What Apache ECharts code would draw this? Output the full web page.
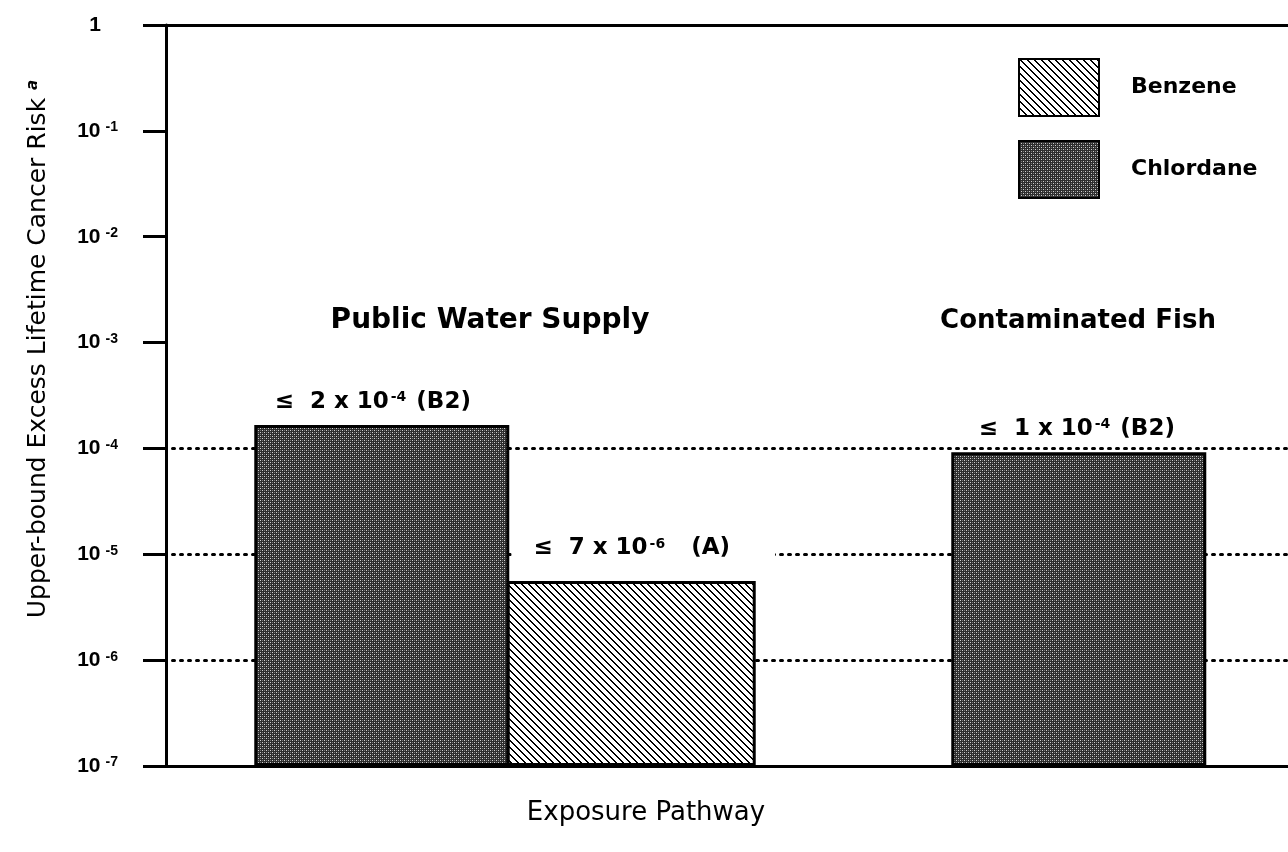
<!DOCTYPE html>
<html><head><meta charset="utf-8">
<script src="https://cdn.jsdelivr.net/npm/echarts@6/dist/echarts.min.js"></script>
<style>html,body{margin:0;padding:0;background:#fff}#c{width:1288px;height:852px}</style>
</head><body><div id="c"></div>
<script>
// ---- data ----
const pathways = ['Public Water Supply', 'Contaminated Fish'];
const chlordaneRisk = [1.66e-4, 9.2e-5];
const benzeneRisk = [5.5e-6, null];
const chlordaneBoundMantissa = [2, 1];
const chlordaneBoundExponent = [-4, -4];
const chlordaneClass = ['B2', 'B2'];
const benzeneBoundMantissa = [7, null];
const benzeneBoundExponent = [-6, null];
const benzeneClass = ['A', null];
const yTickExponents = [-7, -6, -5, -4, -3, -2, -1, 0];
const gridlineExponents = [-6, -5, -4];
const legendNames = ['Benzene', 'Chlordane'];
const yTitle = 'Upper-bound Excess Lifetime Cancer Risk';
const yTitleNote = 'a';
const xTitle = 'Exposure Pathway';

const axisMin = Math.pow(10, yTickExponents[0]);
const axisMax = Math.pow(10, yTickExponents[yTickExponents.length - 1]);

// ---- patterns ----
function makeStipple() {
  const c = document.createElement('canvas'); c.width = 4; c.height = 4;
  const g = c.getContext('2d');
  g.fillStyle = '#2e2e2e'; g.fillRect(0, 0, 4, 4);
  g.fillStyle = '#d0d0d0'; g.fillRect(0, 0, 1, 1); g.fillRect(2, 2, 1, 1);
  g.fillStyle = '#7a7a7a'; g.fillRect(2, 0, 1, 1); g.fillRect(0, 2, 1, 1);
  return c;
}
function makeHatch() {
  const n = 7;
  const c = document.createElement('canvas'); c.width = n; c.height = n;
  const g = c.getContext('2d');
  g.fillStyle = '#fff'; g.fillRect(0, 0, n, n);
  g.fillStyle = '#000';
  for (let i = 0; i < n; i++) { g.fillRect(i, i, 1, 1); g.fillRect((i + 1) % n, i, 1, 1); }
  return c;
}
const stipple = { image: makeStipple(), repeat: 'repeat' };
const hatch = { image: makeHatch(), repeat: 'repeat' };

const FONT = 'DejaVu Sans';
const labelRich = {
  t: { fontFamily: FONT, fontWeight: 'bold', fontSize: 23, color: '#000' },
  s: { fontFamily: FONT, fontWeight: 'bold', fontSize: 14, color: '#000', verticalAlign: 'top', lineHeight: 14, padding: [0, 2, 0, 2] }
};
function boundText(m, e, cls, sep) {
  return '{t|\u2264  ' + m + ' x 10}{s|' + e + '}{t|' + sep + '(' + cls + ')}';
}
const chlLabelStyle = [
  { offset: [-9, 0], distance: 12 },
  { offset: [-2, 0], distance: 12 }
];
const benLabelStyle = [
  { offset: [12, 0], distance: 17, backgroundColor: '#fff', padding: [4, 45, 4, 22] }
];

const chlData = chlordaneRisk.map((v, i) => ({
  value: v,
  label: Object.assign({ show: true, position: 'top', formatter: boundText(chlordaneBoundMantissa[i], chlordaneBoundExponent[i], chlordaneClass[i], ' '), rich: labelRich }, chlLabelStyle[i])
}));
const benData = benzeneRisk.map((v, i) => (v == null ? null : {
  value: v,
  label: Object.assign({ show: true, position: 'top', formatter: boundText(benzeneBoundMantissa[i], benzeneBoundExponent[i], benzeneClass[i], '   '), rich: labelRich }, benLabelStyle[i])
}));
// invisible stack bases so that bars grow up from the axis minimum on the log axis
const chlBase = chlordaneRisk.map(v => (v == null ? null : axisMin));
const benBase = benzeneRisk.map(v => (v == null ? null : axisMin));

const splitColors = yTickExponents.map(e => gridlineExponents.includes(e) ? '#000' : 'rgba(0,0,0,0)');
const axisLineStyle = { color: '#000', width: 3 };
const baseStyle = { color: 'rgba(0,0,0,0)', borderWidth: 0 };

const chart = echarts.init(document.getElementById('c'), null, { renderer: 'canvas' });
chart.setOption({
  animation: false,
  backgroundColor: '#fff',
  grid: { left: 156.5, width: 1394, top: 25, bottom: 86, containLabel: false, outerBoundsMode: 'none' },
  xAxis: [
    { type: 'category', data: pathways, position: 'bottom',
      axisLine: { show: true, onZero: false, lineStyle: axisLineStyle },
      axisTick: { show: false }, axisLabel: { show: false }, splitLine: { show: false } },
    { type: 'category', data: pathways, position: 'top',
      axisLine: { show: true, onZero: false, lineStyle: axisLineStyle },
      axisTick: { show: false }, axisLabel: { show: false }, splitLine: { show: false } }
  ],
  yAxis: {
    type: 'log', logBase: 10, min: axisMin, max: axisMax, splitNumber: 7, offset: -9.5,
    axisLine: { show: true, onZero: false, lineStyle: axisLineStyle },
    axisTick: { show: true, length: 23, lineStyle: { color: '#000', width: 3 } },
    axisLabel: {
      margin: 48, color: '#000',
      formatter: function (v) {
        const e = Math.round(Math.log10(v));
        if (e === 0) return '{b|1}{g|}';
        return '{b|10}{s|' + e + '}';
      },
      rich: {
        b: { fontFamily: 'Liberation Sans', fontWeight: 'bold', fontSize: 21, color: '#000' },
        s: { fontFamily: 'Liberation Sans', fontWeight: 'bold', fontSize: 14, color: '#000', verticalAlign: 'top', lineHeight: 14, padding: [0, 0, 0, 5] },
        g: { width: 17 }
      }
    },
    splitLine: { show: true, lineStyle: { color: splitColors, width: 3, type: [2, 6], cap: 'round' } }
  },
  legend: {
    data: legendNames, orient: 'vertical', left: 1018, top: 58, padding: 0,
    itemWidth: 80, itemHeight: 57, itemGap: 23, icon: 'rect',
    textStyle: { fontFamily: FONT, fontWeight: 'bold', fontSize: 22, color: '#000', padding: [0, 0, 0, 27] }
  },
  series: [
    { name: 'chlBase', type: 'bar', stack: 'chl', xAxisIndex: 0, data: chlBase, barWidth: 255, barGap: '-1%',
      itemStyle: baseStyle, silent: true, label: { show: false }, z: 1 },
    { name: 'Chlordane', type: 'bar', stack: 'chl', xAxisIndex: 0, data: chlData, barWidth: 255, barGap: '-1%',
      itemStyle: { color: stipple, borderColor: '#000', borderWidth: 3 } },
    { name: 'benBase', type: 'bar', stack: 'ben', xAxisIndex: 0, data: benBase, barWidth: 249, barGap: '-1%',
      itemStyle: baseStyle, silent: true, label: { show: false }, z: 1 },
    { name: 'Benzene', type: 'bar', stack: 'ben', xAxisIndex: 0, data: benData, barWidth: 249, barGap: '-1%',
      itemStyle: { color: hatch, borderColor: '#000', borderWidth: 3 } }
  ],
  graphic: [
    { type: 'text', x: 38, y: 349, rotation: Math.PI / 2, z: 10,
      style: { text: '{m|' + yTitle + '}{s|' + yTitleNote + '}', align: 'center', verticalAlign: 'middle',
        rich: { m: { fontFamily: FONT, fontSize: 25, color: '#000' },
                s: { fontFamily: FONT, fontSize: 15, fontWeight: 'bold', fontStyle: 'italic', color: '#000', verticalAlign: 'top', lineHeight: 12, padding: [0, 0, 0, 8] } } } },
    { type: 'text', x: 646, y: 813, z: 10,
      style: { text: xTitle, fontFamily: FONT, fontSize: 26, fill: '#000', align: 'center', verticalAlign: 'middle' } },
    { type: 'text', x: 490, y: 321, z: 10,
      style: { text: pathways[0], fontFamily: FONT, fontWeight: 'bold', fontSize: 28, fill: '#000', align: 'center', verticalAlign: 'middle' } },
    { type: 'text', x: 1078, y: 321, z: 10,
      style: { text: pathways[1], fontFamily: FONT, fontWeight: 'bold', fontSize: 26, fill: '#000', align: 'center', verticalAlign: 'middle' } }
  ]
});
</script></body></html>
